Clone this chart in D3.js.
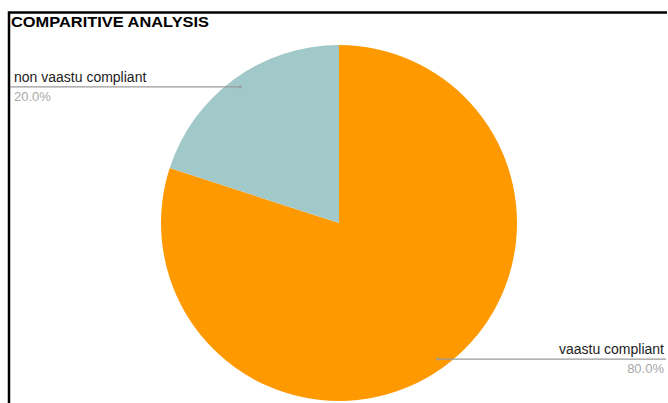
<!DOCTYPE html>
<html>
<head>
<meta charset="utf-8">
<script src="https://cdn.jsdelivr.net/npm/d3@7"></script>
<style>
  body { margin: 0; background: #fff; }
  svg { display: block; font-family: "Liberation Sans", Arial, sans-serif; }
</style>
</head>
<body>
<svg id="chart"></svg>
<script>
// Chart data
var categories = ["vaastu compliant", "non vaastu compliant"];
var shares = [80, 20];
var sliceColors = ["#FF9900", "#A2C9C9"];

var svgWidth = 668;
var svgHeight = 403;

var svg = d3.select("#chart")
  .attr("width", svgWidth)
  .attr("height", svgHeight);

// frame (left + top edge)
svg.append("path")
  .attr("d", "M9,403 V12.5 H667")
  .attr("fill", "none")
  .attr("stroke", "#000")
  .attr("stroke-width", 2.5);

// title
svg.append("text")
  .attr("x", 11)
  .attr("y", 27)
  .style("font-size", "15px")
  .style("font-weight", "bold")
  .attr("fill", "#000")
  .attr("textLength", 198)
  .attr("lengthAdjust", "spacingAndGlyphs")
  .text("COMPARITIVE ANALYSIS");

var cx = 339, cy = 223, radius = 178;

var data = categories.map(function (c, i) {
  return { name: c, value: shares[i], color: sliceColors[i] };
});
var total = d3.sum(shares);

var pie = d3.pie()
  .sort(null)
  .value(function (d) { return d.value; });

var arc = d3.arc().innerRadius(0).outerRadius(radius);
var labelArc = d3.arc().innerRadius(radius * 0.945).outerRadius(radius * 0.945);

var g = svg.append("g")
  .attr("transform", "translate(" + cx + "," + cy + ")");

var arcs = pie(data);

g.selectAll(".slice")
  .data(arcs)
  .enter()
  .append("path")
  .attr("class", "slice")
  .attr("d", arc)
  .attr("fill", function (d) { return d.data.color; });

// labels with leader lines
arcs.forEach(function (d) {
  var p = labelArc.centroid(d);
  var px = cx + p[0], py = cy + p[1];
  var right = p[0] > 0;
  var endX = right ? 666 : 10;
  var textX = right ? 664 : 14;
  var anchor = right ? "end" : "start";

  svg.append("line")
    .attr("x1", px).attr("y1", py)
    .attr("x2", endX).attr("y2", py)
    .attr("stroke", "#9a9a9a")
    .attr("stroke-width", 1.3);

  svg.append("circle")
    .attr("cx", px).attr("cy", py)
    .attr("r", 1.5)
    .attr("fill", "#9a9a9a");

  svg.append("text")
    .attr("x", textX)
    .attr("y", py - 5)
    .attr("text-anchor", anchor)
    .style("font-size", "14px")
    .attr("fill", "#222")
    .text(d.data.name);

  svg.append("text")
    .attr("x", textX)
    .attr("y", py + 14)
    .attr("text-anchor", anchor)
    .style("font-size", "13px")
    .attr("fill", "#a8a8a8")
    .text(d3.format(".1f")(d.data.value / total * 100) + "%");
});
</script>
</body>
</html>
